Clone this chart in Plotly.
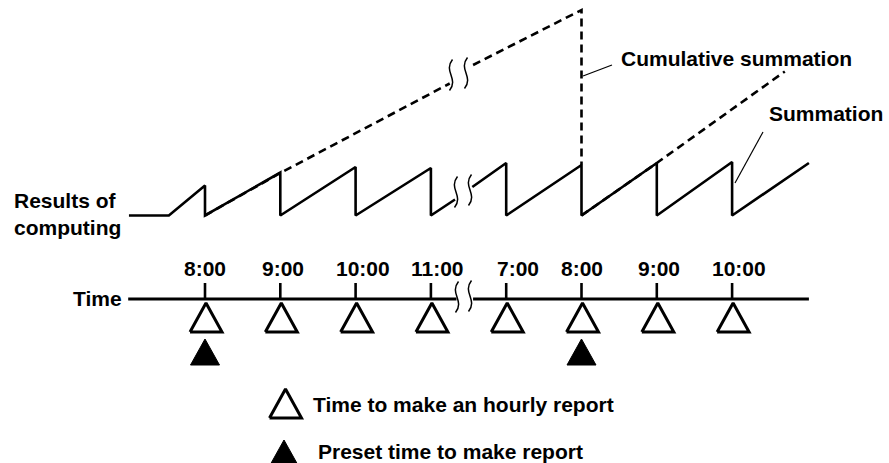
import plotly.graph_objects as go

# ---------------- data ----------------
hour_labels = ["8:00", "9:00", "10:00", "11:00", "7:00", "8:00", "9:00", "10:00"]
hour_pos = [0, 1, 2, 3, 4, 5, 6, 7]          # slots along the time axis
preset_slots = [0, 5]                         # preset time to make report

# "Summation": value reached at each hourly report (then reset to 0)
summation_peaks = [30, 43, 48.5, 47.5, 52.5, 50.5, 52.5, 53.5]
summation_start_x = [-1.01, -0.48]
summation_start_y = [0, 0]
summation_end_x = 8.02
summation_end_y = 52.5
summation_break_x = [3.32, 3.55]
summation_break_y = [16, 28.5]

# "Cumulative summation" (dashed)
cum_x = [0, 1, 3.25, None, 3.56, 5, 5, None, 5, 6, 7.7]
cum_y = [0, 42.5, 132, None, 150.5, 205.5, 50.5, None, 0, 52.5, 144]

# time axis extent and break (in slots)
time_axis_x = [-1.02, 3.34, None, 3.56, 8.02]

# ---------------- layout constants ----------------
W, H = 889, 463
X0_PX, PX_PER_SLOT, BASE_PX = 205, 75.3, 215.5
FONT = "Liberation Sans, Arial, Helvetica, sans-serif"


def X(px):
    return (px - X0_PX) / PX_PER_SLOT


def Y(py):
    return BASE_PX - py


def dx(px):
    return px / PX_PER_SLOT


AXIS_Y = Y(299)
TICK_TOP = Y(283)
LABEL_Y = Y(268)
LABEL_NUDGE_PX = [0, 3, 7, 7, 12, 0, 2, 7]
OPEN_TOP, OPEN_BOT, OPEN_HW = Y(303), Y(332), 16
FILL_TOP, FILL_BOT, FILL_HW = Y(339), Y(365), 14.5

fig = go.Figure()

# summation (solid saw-tooth)
sx = list(summation_start_x)
sy = list(summation_start_y)
for i, p in zip(hour_pos, summation_peaks):
    if i == 4:
        sx += [summation_break_x[0], None, summation_break_x[1]]
        sy += [summation_break_y[0], None, summation_break_y[1]]
    sx += [i, i]
    sy += [p, 0]
sx.append(summation_end_x)
sy.append(summation_end_y)
fig.add_trace(go.Scatter(x=sx, y=sy, mode="lines",
                         line=dict(color="black", width=2.6), hoverinfo="skip"))

# cumulative summation (dashed)
fig.add_trace(go.Scatter(x=cum_x, y=cum_y, mode="lines",
                         line=dict(color="black", width=2.6, dash="8px,5px"),
                         hoverinfo="skip"))

# time axis
fig.add_trace(go.Scatter(x=time_axis_x, y=[AXIS_Y if v is not None else None for v in time_axis_x],
                         mode="lines", line=dict(color="black", width=3), hoverinfo="skip"))

# ticks
tx, ty = [], []
for i in hour_pos:
    tx += [i, i, None]
    ty += [TICK_TOP, AXIS_Y, None]
fig.add_trace(go.Scatter(x=tx, y=ty, mode="lines",
                         line=dict(color="black", width=2.6), hoverinfo="skip"))


def tri(cx, top, bot, hw_px):
    return [cx - dx(hw_px), cx, cx + dx(hw_px), cx - dx(hw_px)], [bot, top, bot, bot]


# open triangles (hourly report)
for i in hour_pos:
    x, y = tri(i + dx(1), OPEN_TOP, OPEN_BOT, OPEN_HW)
    fig.add_trace(go.Scatter(x=x, y=y, mode="lines", fill="toself", fillcolor="white",
                             line=dict(color="black", width=3), hoverinfo="skip"))

# filled triangles (preset)
for i in preset_slots:
    x, y = tri(i, FILL_TOP, FILL_BOT, FILL_HW)
    fig.add_trace(go.Scatter(x=x, y=y, mode="lines", fill="toself", fillcolor="black",
                             line=dict(color="black", width=1), hoverinfo="skip"))

# legend glyphs
x, y = tri(X(285.5), Y(389), Y(418), 16)
fig.add_trace(go.Scatter(x=x, y=y, mode="lines", fill="toself", fillcolor="white",
                         line=dict(color="black", width=3), hoverinfo="skip"))
x, y = tri(X(284), Y(440), Y(466), 14.5)
fig.add_trace(go.Scatter(x=x, y=y, mode="lines", fill="toself", fillcolor="black",
                         line=dict(color="black", width=1), hoverinfo="skip"))

# leader lines
for (x0, y0, x1, y1) in [(583, 76, 612, 65), (735, 183, 763, 132)]:
    fig.add_trace(go.Scatter(x=[X(x0), X(x1)], y=[Y(y0), Y(y1)], mode="lines",
                             line=dict(color="black", width=1.2), hoverinfo="skip"))

# break marks (wavy)
shapes = []
for (cxp, cyp) in [(451, 75), (466, 73), (456, 192), (470, 190), (457, 297), (470, 296)]:
    top, bot = cyp - 15.5, cyp + 15.5
    path = "M {a},{b} C {c},{d} {e},{f} {g},{h}".format(
        a=X(cxp + 1.5), b=Y(top),
        c=X(cxp - 8), d=Y(top + 12),
        e=X(cxp + 8), f=Y(bot - 12),
        g=X(cxp - 1.5), h=Y(bot))
    shapes.append(dict(type="path", xref="x", yref="y", path=path,
                       line=dict(color="black", width=1.5)))

# texts
ann = []


def txt(s, xpx, ypx, anchor="left"):
    ann.append(dict(text="<b>" + s + "</b>", x=X(xpx), y=Y(ypx), xref="x", yref="y",
                    xanchor=anchor, yanchor="middle", showarrow=False,
                    font=dict(family=FONT, size=21, color="black")))


txt("Cumulative summation", 619, 58)
txt("Summation", 767, 113)
txt("Results of", 12, 200)
txt("computing", 12, 227)
txt("Time", 71, 298)
txt("Time to make an hourly report", 311, 404)
txt("Preset time to make report", 316, 451)
for i, lab, nd in zip(hour_pos, hour_labels, LABEL_NUDGE_PX):
    ann.append(dict(text="<b>" + lab + "</b>", x=i + dx(nd), y=LABEL_Y, xref="x", yref="y",
                    xanchor="center", yanchor="middle", showarrow=False,
                    font=dict(family=FONT, size=21, color="black")))

fig.update_layout(
    width=W, height=H, margin=dict(l=0, r=0, t=0, b=0),
    paper_bgcolor="white", plot_bgcolor="white", showlegend=False,
    xaxis=dict(range=[X(0), X(W)], visible=False, fixedrange=True),
    yaxis=dict(range=[Y(H), Y(0)], visible=False, fixedrange=True),
    shapes=shapes, annotations=ann,
)

fig.write_html("out.html", config={"displayModeBar": False},
               post_script="document.body.style.margin='0';document.body.style.overflow='hidden';")
